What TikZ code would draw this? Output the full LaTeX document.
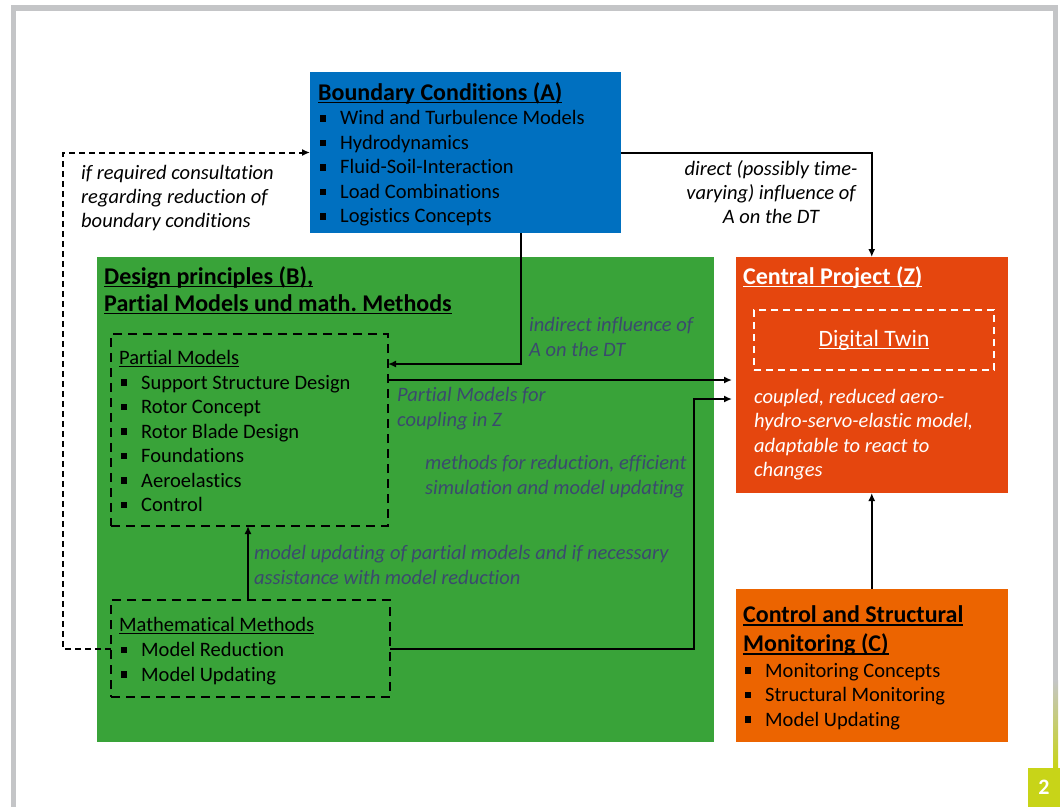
\documentclass[tikz,border=0pt]{standalone}
\usepackage{fontspec}
\setmainfont{Carlito}[Ligatures=NoCommon]
\usetikzlibrary{arrows.meta}
\frenchspacing
\definecolor{frameGray}{RGB}{196,197,199}
\definecolor{limeC}{RGB}{200,212,24}
\definecolor{blueA}{RGB}{0,112,192}
\definecolor{greenB}{RGB}{57,163,57}
\definecolor{redZ}{RGB}{229,70,14}
\definecolor{orangeC}{RGB}{236,100,0}
\definecolor{slate}{RGB}{59,74,110}
\newcommand\bodyfs{\fontsize{20.5}{24.5}\selectfont}
\newcommand\titlefs{\fontsize{24}{28}\selectfont\bfseries}
\newcommand\ulx[3]{\setbox0\hbox{#3}\rlap{\rule[#1]{\wd0}{#2}}\box0}
\newcommand\tul[1]{\ulx{-3.2pt}{1.6pt}{#1}}
\newcommand\bodyul[1]{\ulx{-2.8pt}{1.1pt}{#1}}
\newcommand\bsq{\makebox[22pt][l]{\hspace{1.5pt}\rule[3.3pt]{6.5pt}{6.5pt}}}
\tikzset{
  box/.style={anchor=north west, inner sep=0pt, outer sep=0pt},
  txt/.style={anchor=north west, inner sep=0pt, align=left, font=\bodyfs},
  ltxt/.style={txt, font=\bodyfs\itshape, text=slate},
  ttl/.style={anchor=base west, inner sep=0pt, font=\titlefs},
  conn/.style={line width=2pt, -{Latex[length=8pt,width=7pt]}},
  dashconn/.style={conn, dash pattern=on 6pt off 4pt},
  dbox/.style={box, draw=black, line width=2.5pt, dash pattern=on 9pt off 6pt},
}
\begin{document}
\begin{tikzpicture}[x=1pt,y=-1pt]
\useasboundingbox (0,0) rectangle (1060,807);
% frame
\fill[frameGray] (11,5) rectangle (1058,10.5);
\fill[frameGray] (11,5) rectangle (16,807);
\fill[frameGray] (1053,5) rectangle (1058,680);
\shade[top color=frameGray, bottom color=limeC] (1053,680) rectangle (1058,767);
\node[box, fill=limeC, minimum width=32pt, minimum height=39pt, text=white, font=\fontsize{22}{22}\selectfont\bfseries] (pageNum) at (1028,768) {2};
% main boxes
\node[box, fill=blueA, minimum width=311pt, minimum height=161pt] (A) at (310,72) {};
\node[box, fill=greenB, minimum width=617pt, minimum height=485pt] (B) at (97,257) {};
\node[box, fill=redZ, minimum width=271.5pt, minimum height=236pt] (Z) at (736,257) {};
\node[box, fill=orangeC, minimum width=271.5pt, minimum height=153pt] (C) at (736,589) {};
\node[dbox, minimum width=277pt, minimum height=192pt] (PM) at (111,334) {};
\node[dbox, minimum width=279pt, minimum height=97pt] (MM) at (111,600) {};
\node[box, draw=white, line width=2pt, dash pattern=on 7pt off 5pt, minimum width=240pt, minimum height=60pt, text=white, font=\fontsize{23.5}{28}\selectfont] (DT) at (754,310) {\bodyul{Digital Twin}};
% texts A
\node[ttl] (Atitle) at (318,100) {\tul{Boundary Conditions (A)}};
\node[txt] (Alist) at (318,107.5) {\strut\bsq Wind and Turbulence Models\\ \bsq Hydrodynamics\\ \bsq Fluid-Soil-Interaction\\ \bsq Load Combinations\\ \bsq Logistics Concepts};
% texts B
\node[ttl] (Bt1) at (104,284) {\tul{Design principles (B),}};
\node[ttl] (Bt2) at (104,311) {\tul{Partial Models und math. Methods}};
\node[anchor=base west, inner sep=0pt, font=\bodyfs] (PMtitle) at (119,364.3) {\bodyul{Partial Models}};
\node[txt] (PMlist) at (119,371.9) {\strut\bsq Support Structure Design\\ \bsq Rotor Concept\\ \bsq Rotor Blade Design\\ \bsq Foundations\\ \bsq Aeroelastics\\ \bsq Control};
\node[anchor=base west, inner sep=0pt, font=\bodyfs] (MMtitle) at (119,631.3) {\bodyul{Mathematical Methods}};
\node[txt] (MMlist) at (119,639.2) {\strut\bsq Model Reduction\\ \bsq Model Updating};
% texts Z
\node[ttl, text=white] (Ztitle) at (743,284) {\tul{Central Project (Z)}};
\node[txt, font=\bodyfs\itshape, text=white] (Zdesc) at (754,385.9) {\strut coupled, reduced aero-\\hydro-servo-elastic model,\\adaptable to react to\\changes};
% texts C
\node[ttl] (Ct1) at (743,622.3) {\tul{Control and Structural}};
\node[ttl] (Ct2) at (743,651.3) {\tul{Monitoring (C)}};
\node[txt] (Clist) at (743,659.9) {\strut\bsq Monitoring Concepts\\ \bsq Structural Monitoring\\ \bsq Model Updating};
% labels
\node[anchor=north, inner sep=0pt, align=center, font=\fontsize{20.5}{24}\selectfont\itshape] (lblDirect) at (771,158.5) {\strut direct (possibly time-\\varying) influence of\\A on the DT};
\node[txt, font=\fontsize{20.5}{24}\selectfont\itshape] (lblConsult) at (81,162.2) {\strut if required consultation\\regarding reduction of\\boundary conditions};
\node[ltxt] (lblIndirect) at (529,314.5) {\strut indirect influence of\\A on the DT};
\node[ltxt] (lblPM) at (397,384.2) {\strut Partial Models for\\coupling in Z};
\node[ltxt] (lblMeth) at (425,452.2) {\strut methods for reduction, efficient\\simulation and model updating};
\node[ltxt] (lblUpd) at (254,542.2) {\strut model updating of partial models and if necessary\\assistance with model reduction};
% connectors
\coordinate (indirX) at (521,0);
\coordinate (updX) at (248,0);
\coordinate (mmBend) at (694,399);
\coordinate (cc) at (63,152.5);
\draw[conn] (A.east) -| (Z.north);
\draw[conn] (A.south -| indirX) |- ([yshift=66pt]PM.east);
\draw[conn, shorten >=4pt] ([yshift=50pt]PM.east) -- ([yshift=50pt]PM.east -| Z.west);
\draw[conn, shorten >=4pt] (MM.east) -| (mmBend) -- (mmBend -| Z.west);
\draw[conn] (MM.north -| updX) -- (PM.south -| updX);
\draw[dashconn] (MM.west) -| (cc) -- (A.west);
\draw[conn] (C.north) -- (Z.south);
\end{tikzpicture}
\end{document}
